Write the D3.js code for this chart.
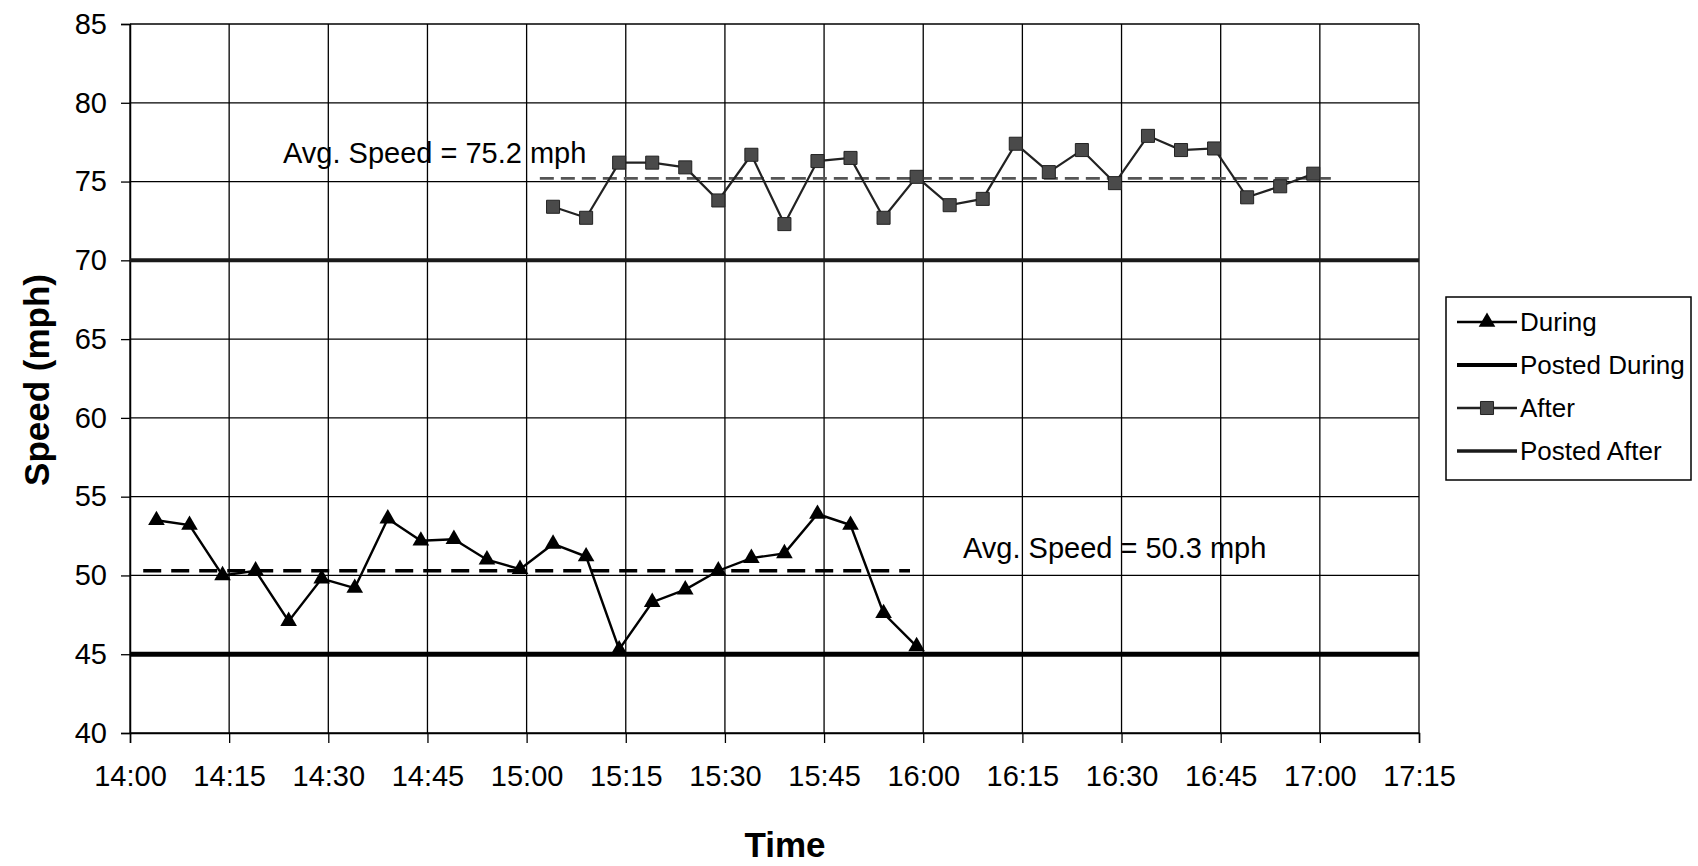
<!DOCTYPE html>
<html><head><meta charset="utf-8">
<script src="https://cdn.jsdelivr.net/npm/d3@7"></script>
<style>
html,body{margin:0;padding:0;background:#fff;}
svg{display:block;font-family:"Liberation Sans",Arial,sans-serif;}
</style></head><body>
<svg id="chart" width="1698" height="866"></svg>
<script>
// ---- data ----
const duringTimes = ["14:04","14:09","14:14","14:19","14:24","14:29","14:34","14:39","14:44","14:49","14:54","14:59",
                     "15:04","15:09","15:14","15:19","15:24","15:29","15:34","15:39","15:44","15:49","15:54","15:59"];
const duringSpeeds = [53.5,53.2,50.0,50.3,47.1,49.8,49.2,53.6,52.2,52.3,51.0,50.4,
                      52.0,51.2,45.3,48.3,49.1,50.3,51.1,51.4,53.9,53.2,47.6,45.5];
const afterTimes = ["15:04","15:09","15:14","15:19","15:24","15:29","15:34","15:39","15:44","15:49","15:54","15:59",
                    "16:04","16:09","16:14","16:19","16:24","16:29","16:34","16:39","16:44","16:49","16:54","16:59"];
const afterSpeeds = [73.4,72.7,76.2,76.2,75.9,73.8,76.7,72.3,76.3,76.5,72.7,75.3,
                     73.5,73.9,77.4,75.6,77.0,74.9,77.9,77.0,77.1,74.0,74.7,75.5];
const postedDuring = 45;
const postedAfter = 70;
const avgDuring = 50.3;
const avgAfter = 75.2;
const avgDuringRange = ["14:02","15:58"];
const avgAfterRange = ["15:02","17:02"];
const xTickLabels = ["14:00","14:15","14:30","14:45","15:00","15:15","15:30","15:45","16:00","16:15","16:30","16:45","17:00","17:15"];
const yTicks = [40,45,50,55,60,65,70,75,80,85];
const legendLabels = ["During","Posted During","After","Posted After"];

// ---- layout ----
const svg = d3.select("#chart");
const L = 130, R = 1419, T = 24, B = 733;
const toMin = s => { const [h,m] = s.split(":").map(Number); return h*60+m; };
const x = d3.scaleLinear().domain([toMin(xTickLabels[0]), toMin(xTickLabels[xTickLabels.length-1])]).range([L,R]);
const y = d3.scaleLinear().domain([40,85]).range([B,T]);

// grid
const g = svg.append("g");
g.selectAll("line.h").data(yTicks).join("line")
  .attr("x1",L).attr("x2",R).attr("y1",d=>y(d)).attr("y2",d=>y(d))
  .attr("stroke","#000").attr("stroke-width",1.3);
g.selectAll("line.v").data(xTickLabels).join("line")
  .attr("x1",d=>x(toMin(d))).attr("x2",d=>x(toMin(d))).attr("y1",T).attr("y2",B)
  .attr("stroke","#000").attr("stroke-width",1.3);

// axes
const yAxis = d3.axisLeft(y).tickValues(yTicks).tickSize(9).tickPadding(14);
const ya = svg.append("g").attr("transform",`translate(${L},0)`).call(yAxis);
const xAxis = d3.axisBottom(x).tickValues(xTickLabels.map(toMin)).tickSize(10).tickPadding(22)
  .tickFormat((d,i)=>xTickLabels[i]);
const xa = svg.append("g").attr("transform",`translate(0,${B})`).call(xAxis);
[ya,xa].forEach(a=>{
  a.select(".domain").attr("stroke","#000").attr("stroke-width",1.5);
  a.selectAll(".tick line").attr("stroke","#000").attr("stroke-width",1.3);
  a.selectAll(".tick text").attr("fill","#000").style("font-size","29px")
   .style("font-family","'Liberation Sans',Arial,sans-serif");
});

// posted lines
svg.append("line").attr("x1",L).attr("x2",R).attr("y1",y(postedDuring)).attr("y2",y(postedDuring))
  .attr("stroke","#000").attr("stroke-width",5);
svg.append("line").attr("x1",L).attr("x2",R).attr("y1",y(postedAfter)).attr("y2",y(postedAfter))
  .attr("stroke","#1a1a1a").attr("stroke-width",4);

// average lines
svg.append("line").attr("x1",x(toMin(avgDuringRange[0]))).attr("x2",x(toMin(avgDuringRange[1])))
  .attr("y1",y(avgDuring)).attr("y2",y(avgDuring))
  .attr("stroke","#000").attr("stroke-width",3.5).attr("stroke-dasharray","18,10");
svg.append("line").attr("x1",x(toMin(avgAfterRange[0]))).attr("x2",x(toMin(avgAfterRange[1])))
  .attr("y1",y(avgAfter)).attr("y2",y(avgAfter))
  .attr("stroke","#555").attr("stroke-width",2.8).attr("stroke-dasharray","14,7");

// series
const line = d3.line().x(d=>x(toMin(d[0]))).y(d=>y(d[1]));
const during = duringTimes.map((t,i)=>[t,duringSpeeds[i]]);
const after = afterTimes.map((t,i)=>[t,afterSpeeds[i]]);
svg.append("path").datum(during).attr("d",line).attr("fill","none").attr("stroke","#000").attr("stroke-width",2.4);
svg.append("path").datum(after).attr("d",line).attr("fill","none").attr("stroke","#222").attr("stroke-width",2.2);
const tri = d3.symbol().type(d3.symbolTriangle).size(120);
const sq = d3.symbol().type(d3.symbolSquare).size(170);
svg.selectAll("path.tri").data(during).join("path").attr("class","tri")
  .attr("transform",d=>`translate(${x(toMin(d[0]))},${y(d[1])})`).attr("d",tri).attr("fill","#000");
svg.selectAll("path.sq").data(after).join("path").attr("class","sq")
  .attr("transform",d=>`translate(${x(toMin(d[0]))},${y(d[1])})`).attr("d",sq)
  .attr("fill","#4a4a4a").attr("stroke","#222").attr("stroke-width",1);

// annotations
svg.append("text").attr("x",283).attr("y",163).text(`Avg. Speed = ${avgAfter} mph`)
  .style("font-size","29px").attr("fill","#000");
svg.append("text").attr("x",963).attr("y",558).text(`Avg. Speed = ${avgDuring} mph`)
  .style("font-size","29px").attr("fill","#000");

// axis titles
svg.append("text").attr("transform","translate(49,380) rotate(-90)").attr("text-anchor","middle")
  .text("Speed (mph)").style("font-size","35px").style("font-weight","bold");
svg.append("text").attr("x",785).attr("y",857).attr("text-anchor","middle")
  .text("Time").style("font-size","35px").style("font-weight","bold");

// legend
const lg = svg.append("g");
lg.append("rect").attr("x",1446).attr("y",297).attr("width",245).attr("height",183)
  .attr("fill","#fff").attr("stroke","#000").attr("stroke-width",1.5);
const rowsY = [322,365,408,451];
legendLabels.forEach((lab,i)=>{
  const yy = rowsY[i];
  const col = i===2 ? "#222" : (i===3 ? "#1a1a1a" : "#000");
  const sw = i===1 ? 4 : (i===3 ? 3.5 : 2.4);
  lg.append("line").attr("x1",1457).attr("x2",1517).attr("y1",yy).attr("y2",yy)
    .attr("stroke",col).attr("stroke-width",sw);
  if(i===0) lg.append("path").attr("transform",`translate(1487,${yy})`).attr("d",tri).attr("fill","#000");
  if(i===2) lg.append("path").attr("transform",`translate(1487,${yy})`).attr("d",sq).attr("fill","#4a4a4a").attr("stroke","#222");
  lg.append("text").attr("x",1520).attr("y",yy+9).text(lab).style("font-size","26px").attr("fill","#000");
});
</script>
</body></html>
